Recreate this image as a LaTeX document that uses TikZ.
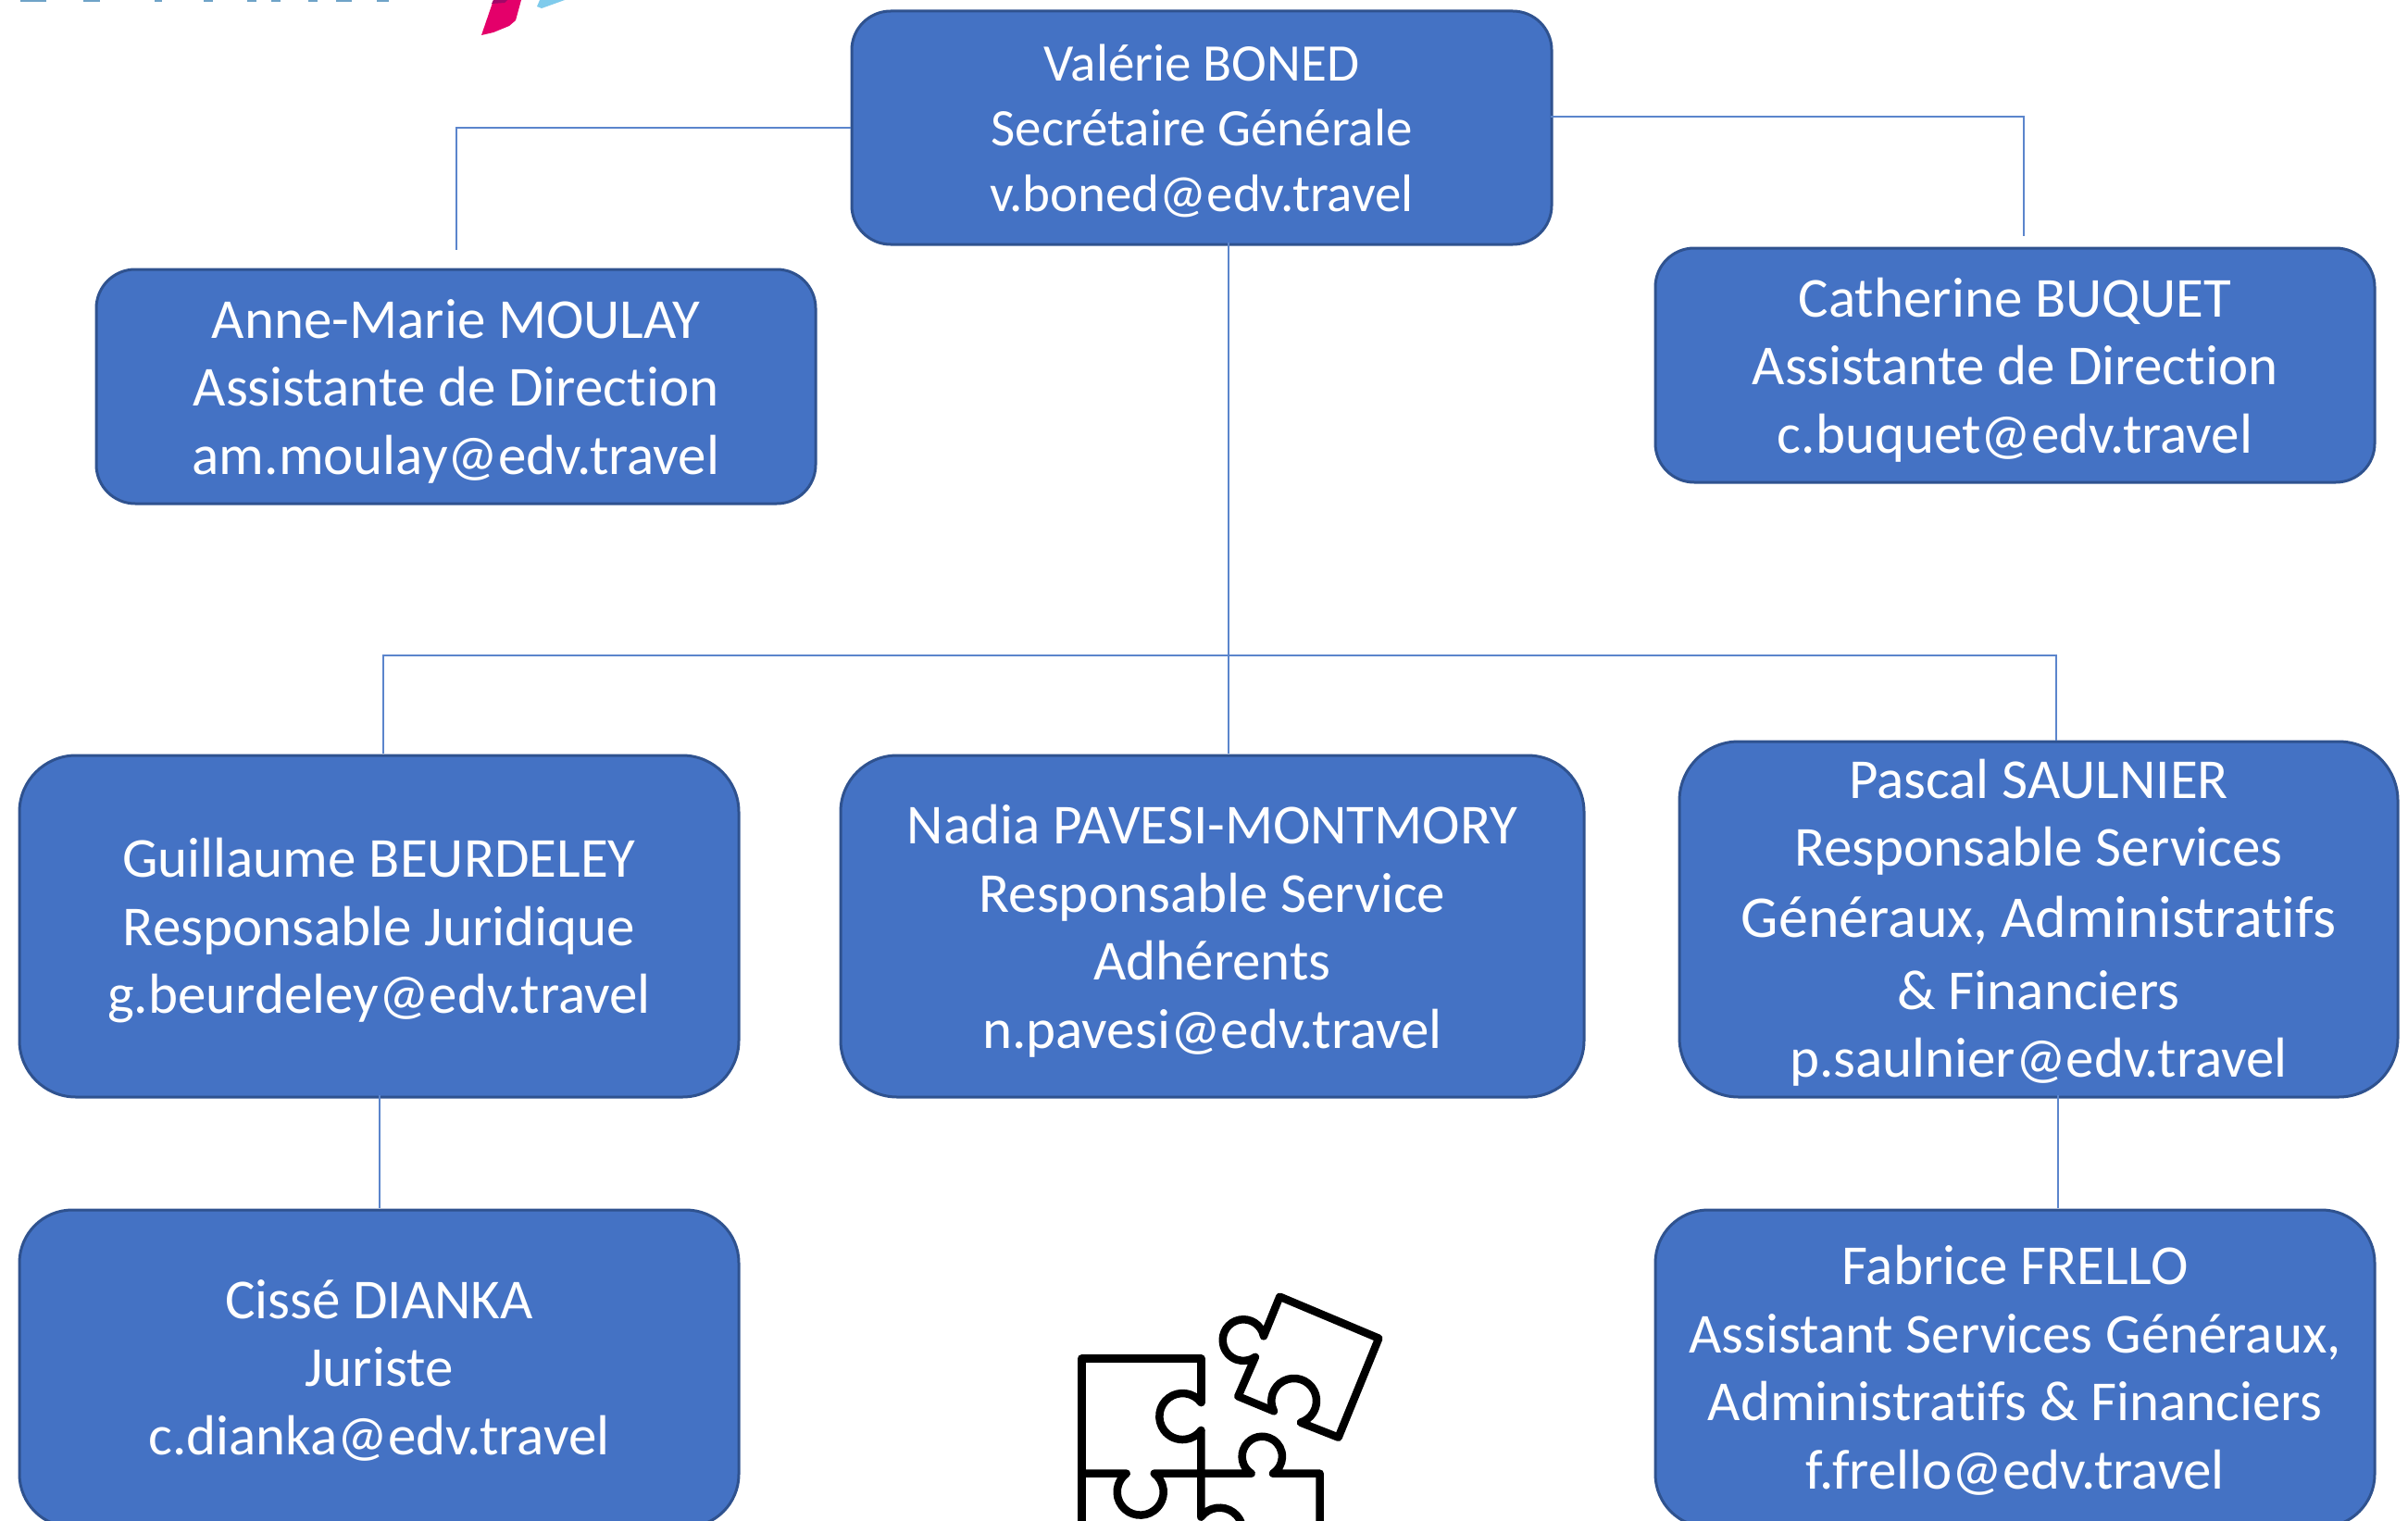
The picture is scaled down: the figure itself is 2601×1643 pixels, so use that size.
\documentclass[tikz,border=0pt]{standalone}
\usepackage{fontspec}
\setmainfont{Carlito}[Ligatures=NoCommon]
\definecolor{boxfill}{HTML}{4472C4}
\definecolor{boxline}{HTML}{2F528F}
\definecolor{linkcol}{HTML}{5B85CC}
\definecolor{logoblue}{HTML}{6FA3C8}
\definecolor{logopink}{HTML}{E4006A}
\definecolor{logodark}{HTML}{A00868}
\definecolor{logosky}{HTML}{7FCBEC}
\newcommand{\dropby}[1]{\rule{0pt}{\dimexpr 46pt+2\dimexpr #1pt\relax\relax}}
\tikzset{
  person/.style={draw=boxline,line width=3pt,fill=boxfill,text=white,align=center,inner sep=0pt,anchor=north west,
    font=\fontsize{61}{73.5}\selectfont},
  link/.style={draw=linkcol,line width=2pt},
  puzzle/.style={draw=black,line width=8.5pt,line cap=round,line join=round}
}
\begin{document}
\begin{tikzpicture}[x=1pt,y=-1pt]
\useasboundingbox[fill=white] (0,0) rectangle (2601,1643);
\begin{scope}
\clip (0,0) rectangle (2601,1643);
% logo fragments
\foreach \xa/\xb in {22/50,90/108,167/175,220/230,267/277,293/303,333/343,363/380,407/420}
  \fill[logoblue] (\xa,0) rectangle (\xb,2);
\fill[logopink] (533,0) -- (520,38) -- (533,35) -- (550,28) -- (557,22) -- (563,0) -- cycle;
\fill[logodark] (533,0) -- (531,4) -- (545,3) -- (548,0) -- cycle;
\fill[logosky] (583,0) -- (580,7) -- (585,9) -- (610,0) -- cycle;
% nodes
\node[person,rounded corners=42pt,minimum width=756pt,minimum height=252pt,font=\fontsize{57}{70.5}\selectfont] (val) at (918.5,10.5) {\dropby{0}Valérie BONED\\Secrétaire Générale\\v.boned@edv.travel};
\node[person,rounded corners=42pt,minimum width=777pt,minimum height=253pt] (ann) at (102.5,289.5) {\dropby{3.4}Anne-Marie MOULAY\\Assistante de Direction\\am.moulay@edv.travel};
\node[person,rounded corners=42pt,minimum width=777pt,minimum height=253pt] (cat) at (1786.5,266.5) {\dropby{3.4}Catherine BUQUET\\Assistante de Direction\\c.buquet@edv.travel};
\node[person,rounded corners=61pt,minimum width=777pt,minimum height=369pt] (gui) at (19.5,814.5) {\dropby{3.2}Guillaume BEURDELEY\\Responsable Juridique\\g.beurdeley@edv.travel};
\node[person,rounded corners=61pt,minimum width=803pt,minimum height=369pt] (nad) at (906.5,814.5) {\dropby{3.2}Nadia PAVESI-MONTMORY\\Responsable Service\\Adhérents\\n.pavesi@edv.travel};
\node[person,rounded corners=64pt,minimum width=776pt,minimum height=384pt] (pas) at (1812.5,799.5) {\dropby{2}Pascal SAULNIER\\Responsable Services\\[2.6pt]{\fontsize{64}{75}\selectfont Généraux, Administratifs}\\[4.6pt]\& Financiers\\p.saulnier@edv.travel};
\node[person,rounded corners=57pt,minimum width=777pt,minimum height=342.5pt] (cis) at (19.5,1305.5) {\dropby{0}Cissé DIANKA\\Juriste\\c.dianka@edv.travel};
\node[person,rounded corners=57pt,minimum width=777pt,minimum height=342.5pt] (fab) at (1786.5,1305.5) {\dropby{0}Fabrice FRELLO\\Assistant Services Généraux,\\Administratifs \& Financiers\\f.frello@edv.travel};
% free ends
\coordinate (annend) at (493,270);
\coordinate (catend) at (2186,255);
\coordinate (valr) at (1675,126);
\coordinate (busr) at (2221,708);
\coordinate (valb) at (1327,262);
\coordinate (nadt) at (1327,814);
\coordinate (guib) at (410,1183);
\coordinate (cist) at (410,1305);
\coordinate (pasb) at (2223,1183);
\coordinate (fabt) at (2223,1305);
\coordinate (guit) at (414,814);
\coordinate (past) at (2221,800);
% connectors
\draw[link] (val.west) -| (annend);
\draw[link] (valr) -| (catend);
\draw[link] (valb) -- (nadt);
\draw[link] (guit) |- (busr) -- (past);
\draw[link] (guib) -- (cist);
\draw[link] (pasb) -- (fabt);
% puzzle
\begin{scope}[shift={(1100,1360)},x=0.3333pt,y=-0.3333pt]
\draw[puzzle] (592,465) -- (592,323) -- (205,323) -- (205,900);
\draw[puzzle] (592,465) arc[start angle=-37,end angle=-323,radius=75];
\draw[puzzle] (592,555) -- (592,836) arc[start angle=217,end angle=503,radius=75];
\draw[puzzle] (205,695) -- (350,695) arc[start angle=233,end angle=-53,radius=75] -- (755,695) arc[start angle=122.5,end angle=417.5,radius=65] -- (977,695) -- (977,900);
\draw[puzzle] (915,530) -- (1037,578) -- (1168,257) -- (847,122) -- (795,250) arc[start angle=-11,end angle=-305,radius=67] -- (712,445) -- (828,493) arc[start angle=153,end angle=432.6,radius=73];
\end{scope}
\end{scope}
\end{tikzpicture}
\end{document}
